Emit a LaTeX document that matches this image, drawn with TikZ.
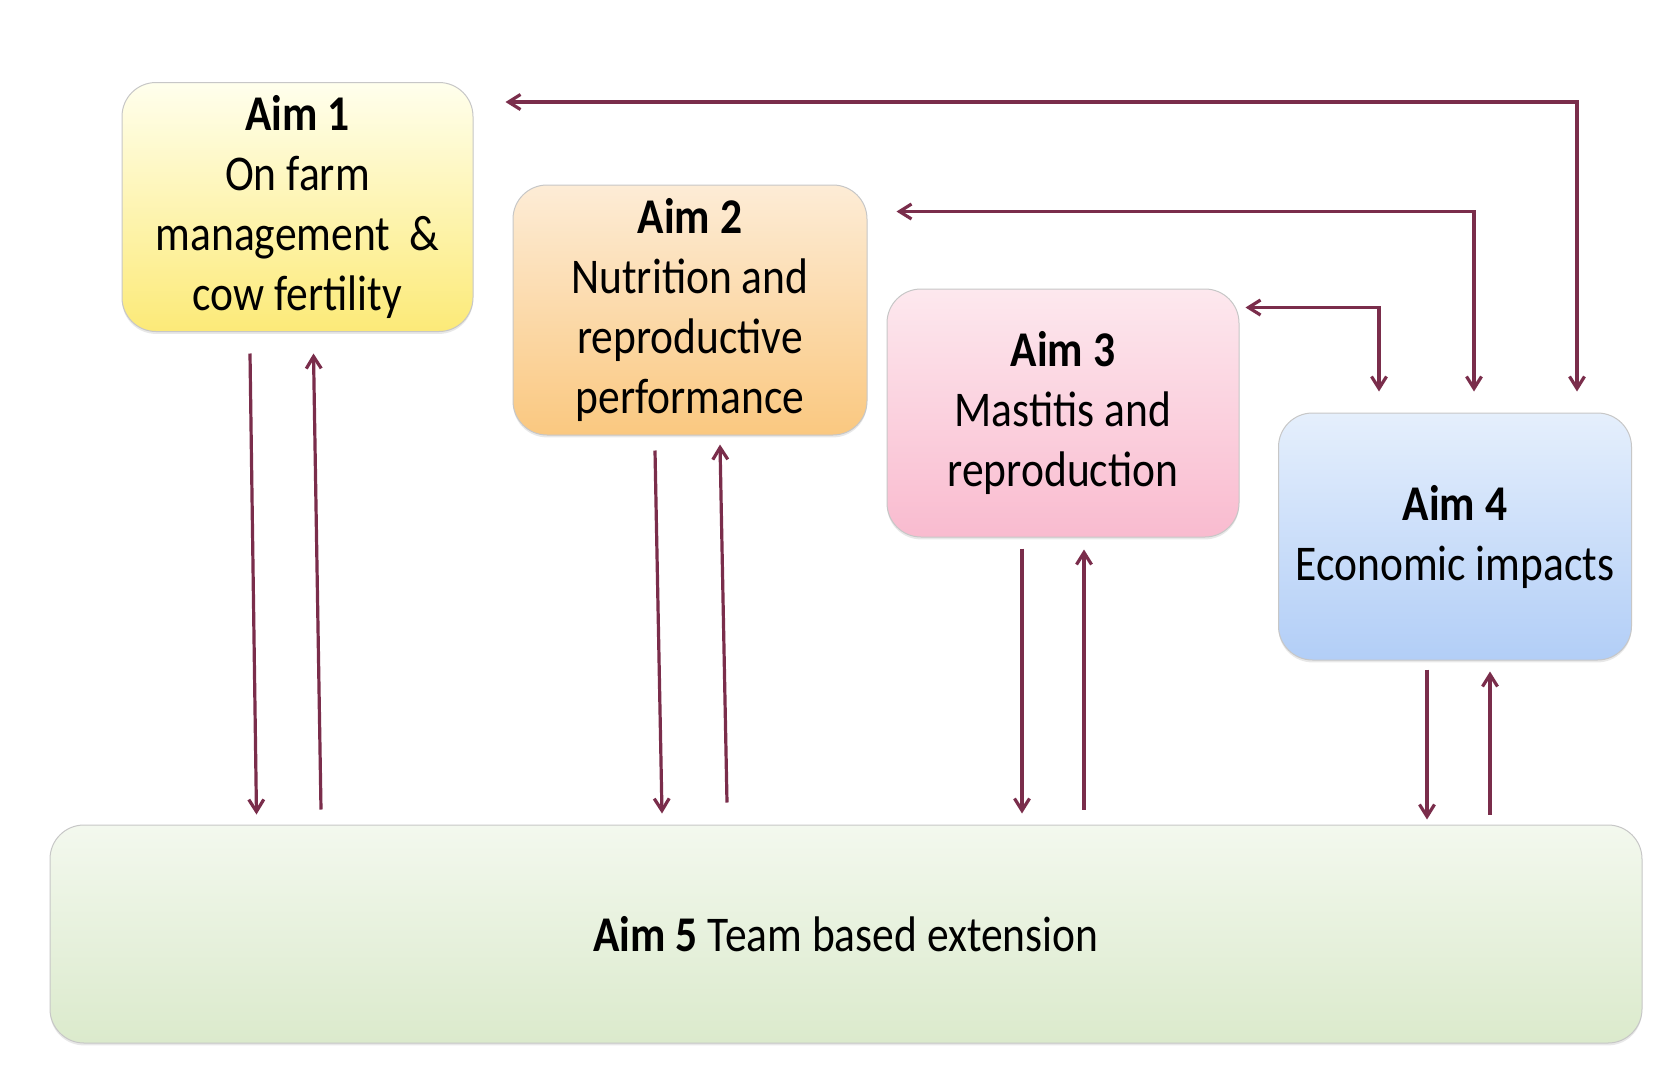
\documentclass[tikz,border=0pt]{standalone}
\usepackage{fontspec}
\setmainfont{Carlito}[FakeStretch=0.87]
\usetikzlibrary{arrows.meta,shadows}
\definecolor{arrc}{HTML}{7A2D4B}
\begin{document}
\begin{tikzpicture}[x=0.5pt,y=-0.5pt,
  aimbox/.style={draw=black!22, line width=0.5pt, rounded corners=17pt, align=center, inner sep=0pt,
    font=\fontsize{25}{30}\selectfont,
    drop shadow={opacity=0.18, shadow xshift=0pt, shadow yshift=-1.2pt}},
  arr/.style={draw=arrc, line width=1.6pt, -{Straight Barb[length=6pt,width=7.5pt]}},
  darr/.style={draw=arrc, line width=1.6pt, {Straight Barb[length=6pt,width=7.5pt]}-{Straight Barb[length=6pt,width=7.5pt]}}]
\useasboundingbox (0,0) rectangle (1667,1077);
\fill[white] (0,0) rectangle (1667,1077);
\node[aimbox, minimum width=175.5pt, minimum height=124.5pt, top color=yellow!7!white, bottom color={rgb,255:red,252;green,234;blue,120}]
  (a1) at (297.5,207) {\textbf{Aim 1}\\On farm\\management\ \ \&\\cow fertility};
\node[aimbox, minimum width=177pt, minimum height=125pt, top color={rgb,255:red,253;green,236;blue,214}, bottom color={rgb,255:red,250;green,200;blue,128}]
  (a2) at (690,310) {\textbf{Aim 2}\\Nutrition and\\reproductive\\performance};
\node[aimbox, minimum width=176pt, minimum height=124pt, top color={rgb,255:red,253;green,232;blue,238}, bottom color={rgb,255:red,249;green,187;blue,207}]
  (a3) at (1063,413) {\textbf{Aim 3}\\Mastitis and\\reproduction};
\node[aimbox, minimum width=176.5pt, minimum height=123.5pt, top color={rgb,255:red,229;green,239;blue,252}, bottom color={rgb,255:red,178;green,206;blue,247}]
  (a4) at (1455,536.5) {\textbf{Aim 4}\\Economic impacts};
\node[aimbox, minimum width=796pt, minimum height=109pt, top color={rgb,255:red,243;green,248;blue,238}, bottom color={rgb,255:red,219;green,234;blue,204}]
  (a5) at (846,934) {\textbf{Aim 5} Team based extension};
% feedback connectors from Aim 4
\draw[darr] ([shift={(122,-21)}]a4.north) |- ([shift={(32,-105)}]a1.east);
\draw[darr] ([shift={(19,-21)}]a4.north) |- ([shift={(29,27)}]a2.north east);
\draw[darr] ([shift={(-76,-21)}]a4.north) |- ([shift={(6,19)}]a3.north east);
% vertical connectors with Aim 5
\draw[arr] ([shift={(-47.5,21.5)}]a1.south) -- ([shift={(-589.5,-10)}]a5.north);
\draw[arr] ([shift={(-525,-15)}]a5.north) -- ([shift={(16,21.5)}]a1.south);
\draw[arr] ([shift={(-35,15)}]a2.south) -- ([shift={(-184,-11)}]a5.north);
\draw[arr] ([shift={(-119,-22)}]a5.north) -- ([shift={(30,9)}]a2.south);
\draw[arr] ([shift={(-41,11)}]a3.south) -- ([shift={(176,-11)}]a5.north);
\draw[arr] ([shift={(238,-15)}]a5.north) -- ([shift={(21,12)}]a3.south);
\draw[arr] ([shift={(-28,9)}]a4.south) -- ([shift={(581,-5)}]a5.north);
\draw[arr] ([shift={(644,-10)}]a5.north) -- ([shift={(35,11)}]a4.south);
\end{tikzpicture}
\end{document}
